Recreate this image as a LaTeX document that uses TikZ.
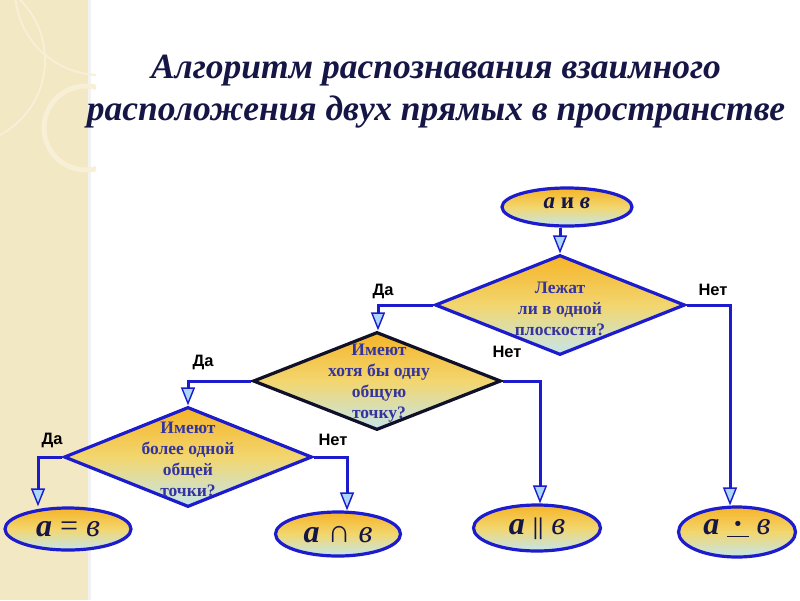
\documentclass[tikz,border=0pt]{standalone}
\usepackage{fontspec}
\setmainfont{Liberation Serif}
\newfontfamily\lsans{Liberation Sans}
\usetikzlibrary{shapes.geometric,arrows.meta,calc}
\definecolor{stripe}{RGB}{243,232,196}
\definecolor{ring}{RGB}{247,239,214}
\definecolor{navy}{RGB}{22,22,70}
\definecolor{dtext}{RGB}{52,52,160}
\definecolor{bblue}{RGB}{28,28,205}
\definecolor{dborder}{RGB}{16,16,40}
\definecolor{gtop}{RGB}{246,180,40}
\definecolor{gmid}{RGB}{242,214,110}
\definecolor{gbot}{RGB}{196,230,236}
\definecolor{tipfill}{RGB}{170,215,250}
\tikzset{
  grad/.style={top color=gtop,bottom color=gbot,middle color=gmid,shading=axis},
  oval/.style={ellipse,draw=bblue,line width=3.2pt,grad,inner sep=0pt},
  rhomb/.style={diamond,draw=bblue,line width=3.2pt,grad,inner sep=0pt,aspect=2.5},
  dlabel/.style={font=\bfseries\fontsize{17.5}{21}\selectfont,text=dtext,align=center},
  yn/.style={font=\lsans\bfseries\fontsize{16.5}{16.5}\selectfont,text=black},
  conn/.style={draw=bblue,line width=3pt},
  arr/.style={conn,-{Triangle[width=14pt,length=18pt,line width=1.4pt,fill=tipfill]}},
  otext/.style={font=\fontsize{32}{32}\selectfont,text=navy},
}
\begin{document}
\begin{tikzpicture}[x=1pt,y=-1pt]
\useasboundingbox (0,0) rectangle (800,600);
\fill[white] (0,0) rectangle (800,600);
% left stripe
\fill[stripe] (0,0) rectangle (88,600);
\fill[black!5] (88,0) rectangle (91,600);
% decorative arcs
\begin{scope}
\clip (0,0) rectangle (96,200);
\draw[ring,line width=5pt] (86,128) circle (42);
\draw[ring,line width=2pt] (100,-10) circle (85);
\draw[ring,line width=2pt] (-40,60) circle (85);
\end{scope}
% title
\node[font=\bfseries\itshape\fontsize{35.5}{42}\selectfont,text=navy,align=center] (title) at (436,92)
 {Алгоритм распознавания взаимного\\расположения двух прямых в пространстве};
% top ellipse
\node[oval,minimum width=130,minimum height=38] (e0) at (567,207) {};
\node[font=\bfseries\fontsize{23}{23}\selectfont,text=navy] (t0) at (567,203) {\textit{а} и \textit{в}};
% diamonds
\node[rhomb,minimum width=250,minimum height=100] (d1) at (560,305) {};
\node[dlabel] (t1) at (560,309) {Лежат\\ли в одной\\плоскости?};
\node[rhomb,draw=dborder,minimum width=248,minimum height=98] (d2) at (377,381) {};
\node[dlabel] (t2) at (379,383) {Имеют\\хотя бы одну\\общую\\точку?};
\node[rhomb,minimum width=248,minimum height=100] (d3) at (188,457) {};
\node[dlabel] (t3) at (188,459) {Имеют\\более одной\\общей\\точки?};
% bottom ellipses
\node[oval,minimum width=126,minimum height=42] (e1) at (68,529) {};
\node[otext] (r1) at (68,529) {\textbf{\textit{а}} = \textit{в}};
\node[oval,minimum width=125,minimum height=44] (e2) at (338,534) {};
\node[otext] (r2) at (338,535) {\textbf{\textit{а}} ∩ \textit{в}};
\node[oval,minimum width=127,minimum height=46] (e3) at (537,528) {};
\node[otext] (r3) at (537,529) {\textbf{\textit{а}} {\fontsize{24}{24}\selectfont\textbf{||}} \textit{в}};
\node[oval,minimum width=117,minimum height=50] (e4) at (737,532) {};
\node[otext] (r4) at (737,528) {\textbf{\textit{а}} \underline{\,\textbf{·}\,} \textit{в}};
% connector corners
\coordinate (c1l) at (378,305);
\coordinate (c1r) at (730,305);
\coordinate (c2l) at (188,381);
\coordinate (c2r) at (540,381);
\coordinate (c3l) at (38,457);
\coordinate (c3r) at (347,457);
% connectors
\draw[arr] (d1.north |- e0.south) -- (d1.north);
\draw[arr] (d1.west) -- (c1l) -- (c1l |- d2.north);
\draw[arr] (d1.east) -- (c1r) -- (c1r |- e4.north);
\draw[arr] (d2.west) -- (c2l) -- (c2l |- d3.north);
\draw[arr] (d2.east) -- (c2r) -- (c2r |- e3.north);
\draw[arr] (d3.west) -- (c3l) -- (c3l |- e1.north);
\draw[arr] (d3.east) -- (c3r) -- (c3r |- e2.north);
% labels
\node[yn] (y1) at (383,291) {Да};
\node[yn] (n1) at (713,290) {Нет};
\node[yn] (y2) at (203,362) {Да};
\node[yn] (n2) at (507,352) {Нет};
\node[yn] (y3) at (52,440) {Да};
\node[yn] (n3) at (333,440) {Нет};
\end{tikzpicture}
\end{document}
